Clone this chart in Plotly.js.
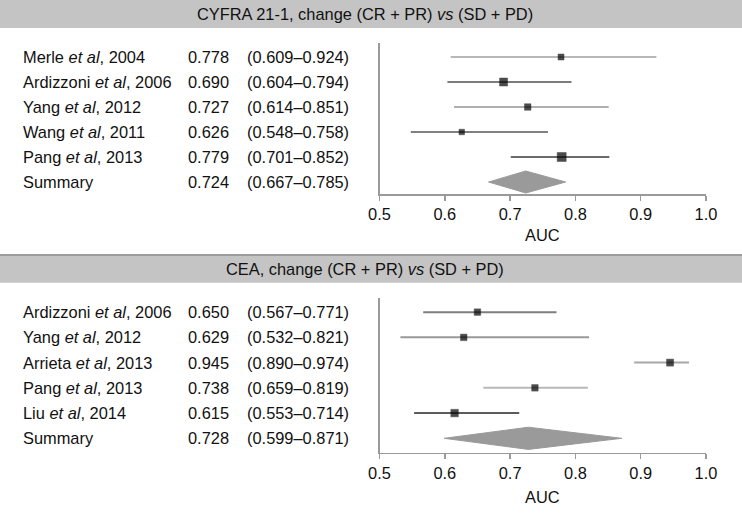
<!DOCTYPE html>
<html>
<head>
<meta charset="utf-8">
<script src="https://cdn.plot.ly/plotly-3.0.1.min.js"></script>
<style>html,body{margin:0;padding:0;background:#fff;}#chart{width:742px;height:513px;}</style>
</head>
<body>
<div id="chart"></div>
<script>
// ---- Data ----
const panelTitles = ["CYFRA 21-1, change (CR + PR) <i>vs</i> (SD + PD)", "CEA, change (CR + PR) <i>vs</i> (SD + PD)"];

const topNames = ["Merle <i>et al</i>, 2004", "Ardizzoni <i>et al</i>, 2006", "Yang <i>et al</i>, 2012", "Wang <i>et al</i>, 2011", "Pang <i>et al</i>, 2013"];
const topAUC = [0.778, 0.690, 0.727, 0.626, 0.779];
const topLo  = [0.609, 0.604, 0.614, 0.548, 0.701];
const topHi  = [0.924, 0.794, 0.851, 0.758, 0.852];
const topSummary = [0.724, 0.667, 0.785]; // AUC, lo, hi

const botNames = ["Ardizzoni <i>et al</i>, 2006", "Yang <i>et al</i>, 2012", "Arrieta <i>et al</i>, 2013", "Pang <i>et al</i>, 2013", "Liu <i>et al</i>, 2014"];
const botAUC = [0.650, 0.629, 0.945, 0.738, 0.615];
const botLo  = [0.567, 0.532, 0.890, 0.659, 0.553];
const botHi  = [0.771, 0.821, 0.974, 0.819, 0.714];
const botSummary = [0.728, 0.599, 0.871];

const xTicks = [0.5, 0.6, 0.7, 0.8, 0.9, 1.0];
const xTickLabels = ["0.5", "0.6", "0.7", "0.8", "0.9", "1.0"];
const axisLabel = "AUC";
const summaryLabel = "Summary";

// ---- Styles (kept separate from data) ----
const topLineColors = ["#b8b8b8", "#7c7c7c", "#b0b0b0", "#808080", "#6c6c6c"];
const topMarkerSizes = [6, 8, 6.5, 5.5, 9];
const botLineColors = ["#7e7e7e", "#999999", "#a8a8a8", "#b8b8b8", "#5c5c5c"];
const botMarkerSizes = [6.5, 6.5, 7, 6.5, 7.5];

const FONT = '"Liberation Sans", Arial, Helvetica, sans-serif';
const TXT = '#111';
const W = 742, H = 513;
const px = v => v / W;
const py = v => 1 - v / H;

const traces = [];
const annotations = [];

function buildPanel(names, auc, lo, hi, summ, colors, sizes, xa, ya, yref) {
  const n = names.length;
  for (let i = 0; i < n; i++) {
    traces.push({
      x: [lo[i], hi[i]], y: [i + 1, i + 1], mode: 'lines', type: 'scatter',
      line: {color: colors[i], width: 2}, xaxis: xa, yaxis: ya, hoverinfo: 'skip'
    });
  }
  traces.push({
    x: auc, y: auc.map((_, i) => i + 1), mode: 'markers', type: 'scatter',
    marker: {symbol: 'square', color: '#000', size: sizes, line: {width: 0.5, color: '#000'}},
    xaxis: xa, yaxis: ya
  });
  const sr = n + 1, hh = 0.44;
  traces.push({
    x: [summ[1], summ[0], summ[2], summ[0], summ[1]],
    y: [sr, sr - hh, sr, sr + hh, sr],
    mode: 'lines', type: 'scatter', fill: 'toself', fillcolor: '#9a9a9a',
    line: {color: '#9a9a9a', width: 1}, xaxis: xa, yaxis: ya, hoverinfo: 'skip'
  });
  const allNames = names.concat([summaryLabel]);
  const allAUC = auc.concat([summ[0]]);
  const allLo = lo.concat([summ[1]]);
  const allHi = hi.concat([summ[2]]);
  const f = {family: FONT, size: 16.4, color: TXT};
  for (let i = 0; i < allNames.length; i++) {
    const common = {xref: 'paper', yref: yref, y: i + 1, showarrow: false, xanchor: 'left', yanchor: 'middle', font: f};
    annotations.push(Object.assign({x: px(21), text: allNames[i]}, common));
    annotations.push(Object.assign({x: px(186), text: allAUC[i].toFixed(3)}, common));
    annotations.push(Object.assign({x: px(245), text: '(' + allLo[i].toFixed(3) + '\u2013' + allHi[i].toFixed(3) + ')'}, common));
  }
}

buildPanel(topNames, topAUC, topLo, topHi, topSummary, topLineColors, topMarkerSizes, 'x', 'y', 'y');
buildPanel(botNames, botAUC, botLo, botHi, botSummary, botLineColors, botMarkerSizes, 'x2', 'y2', 'y2');

// headers & axis titles
const hf = {family: FONT, size: 16.4, color: TXT};
annotations.push({xref: 'paper', yref: 'paper', x: px(365), y: py(14), text: panelTitles[0], showarrow: false, xanchor: 'center', yanchor: 'middle', font: hf});
annotations.push({xref: 'paper', yref: 'paper', x: px(365), y: py(268.5), text: panelTitles[1], showarrow: false, xanchor: 'center', yanchor: 'middle', font: hf});
annotations.push({xref: 'paper', yref: 'paper', x: px(542.5), y: py(235), text: axisLabel, showarrow: false, xanchor: 'center', yanchor: 'middle', font: hf});
annotations.push({xref: 'paper', yref: 'paper', x: px(542.5), y: py(496.5), text: axisLabel, showarrow: false, xanchor: 'center', yanchor: 'middle', font: hf});

const xCommon = {
  range: [0.5, 1.0], showline: true, linecolor: '#9a9a9a', linewidth: 1.5,
  ticks: 'outside', ticklen: 5, tickwidth: 1.5, tickcolor: '#9a9a9a',
  tickvals: xTicks, ticktext: xTickLabels, tickfont: {family: FONT, size: 16.4, color: TXT},
  showgrid: false, zeroline: false, fixedrange: true, domain: [px(379.5), px(706)]
};
const yCommon = {
  showline: true, linecolor: '#9a9a9a', linewidth: 1.5, showticklabels: false, ticks: '',
  showgrid: false, zeroline: false, fixedrange: true
};

const layout = {
  width: W, height: H, margin: {l: 0, r: 0, t: 0, b: 0}, showlegend: false,
  paper_bgcolor: '#fff', plot_bgcolor: 'rgba(0,0,0,0)',
  font: {family: FONT, size: 16, color: TXT},
  xaxis: Object.assign({}, xCommon, {anchor: 'y'}),
  yaxis: Object.assign({}, yCommon, {anchor: 'x', domain: [py(194), py(43)], range: [6.48, 0.44]}),
  xaxis2: Object.assign({}, xCommon, {anchor: 'y2'}),
  yaxis2: Object.assign({}, yCommon, {anchor: 'x2', domain: [py(452.7), py(298)], range: [6.57, 0.44]}),
  shapes: [
    {type: 'rect', xref: 'paper', yref: 'paper', x0: 0, x1: 1, y0: py(28), y1: 1, fillcolor: '#c4c4c4', line: {width: 0}, layer: 'below'},
    {type: 'rect', xref: 'paper', yref: 'paper', x0: 0, x1: 1, y0: py(282.7), y1: py(254), fillcolor: '#c4c4c4', line: {width: 0}, layer: 'below'},
    {type: 'line', xref: 'paper', yref: 'paper', x0: 0, x1: 1, y0: py(255), y1: py(255), line: {color: '#9c9c9c', width: 2}, layer: 'below'}
  ],
  annotations: annotations
};

Plotly.newPlot('chart', traces, layout, {displayModeBar: false, staticPlot: true});
</script>
</body>
</html>
